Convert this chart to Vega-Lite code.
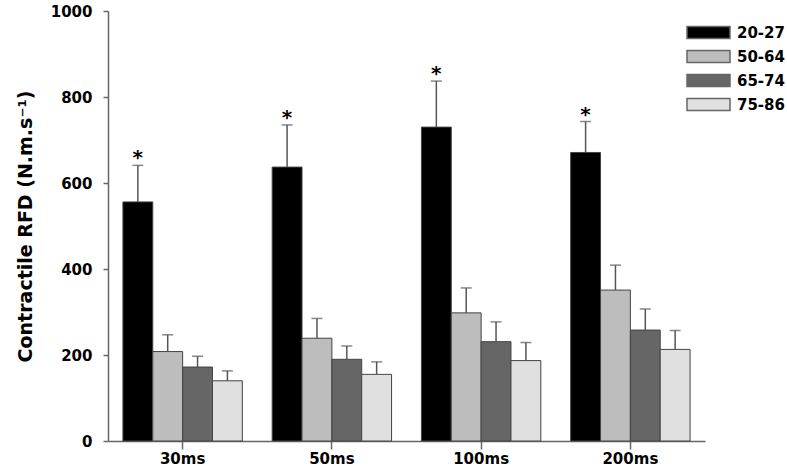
{
  "$schema": "https://vega.github.io/schema/vega-lite/v6.json",
  "autosize": "none",
  "width": 597,
  "height": 430,
  "padding": {"left": 108, "top": 11, "right": 82, "bottom": 25},
  "background": "white",
  "config": {
    "view": {"stroke": null},
    "font": "DejaVu Sans"
  },
  "data": {
    "values": [
      {"time": "30ms", "age": "20-27", "mean": 556, "upper": 641, "sig": "*"},
      {"time": "30ms", "age": "50-64", "mean": 208, "upper": 247, "sig": ""},
      {"time": "30ms", "age": "65-74", "mean": 172, "upper": 197, "sig": ""},
      {"time": "30ms", "age": "75-86", "mean": 140, "upper": 163, "sig": ""},
      {"time": "50ms", "age": "20-27", "mean": 637, "upper": 735, "sig": "*"},
      {"time": "50ms", "age": "50-64", "mean": 239, "upper": 285, "sig": ""},
      {"time": "50ms", "age": "65-74", "mean": 190, "upper": 221, "sig": ""},
      {"time": "50ms", "age": "75-86", "mean": 155, "upper": 184, "sig": ""},
      {"time": "100ms", "age": "20-27", "mean": 730, "upper": 837, "sig": "*"},
      {"time": "100ms", "age": "50-64", "mean": 298, "upper": 356, "sig": ""},
      {"time": "100ms", "age": "65-74", "mean": 231, "upper": 277, "sig": ""},
      {"time": "100ms", "age": "75-86", "mean": 187, "upper": 229, "sig": ""},
      {"time": "200ms", "age": "20-27", "mean": 671, "upper": 743, "sig": "*"},
      {"time": "200ms", "age": "50-64", "mean": 351, "upper": 409, "sig": ""},
      {"time": "200ms", "age": "65-74", "mean": 258, "upper": 307, "sig": ""},
      {"time": "200ms", "age": "75-86", "mean": 213, "upper": 257, "sig": ""}
    ]
  },
  "encoding": {
    "x": {
      "field": "time", "type": "nominal", "sort": ["30ms", "50ms", "100ms", "200ms"],
      "scale": {"paddingInner": 0.2, "paddingOuter": 0.1},
      "axis": {
        "title": null, "labelAngle": 0, "labelFont": "DejaVu Sans", "labelFontWeight": "bold",
        "labelFontSize": 15, "labelColor": "black", "labelPadding": 2,
        "domainColor": "#666", "domainWidth": 1.5, "tickColor": "#666", "tickWidth": 1.5, "tickSize": 8
      }
    },
    "xOffset": {"field": "age", "type": "nominal", "sort": ["20-27", "50-64", "65-74", "75-86"], "scale": {"paddingInner": 0, "paddingOuter": 0}}
  },
  "layer": [
    {
      "mark": {"type": "bar", "stroke": "#444", "strokeWidth": 1, "opacity": 1},
      "encoding": {
        "y": {
          "field": "mean", "type": "quantitative",
          "scale": {"domain": [0, 1000], "nice": false},
          "axis": {
            "values": [0, 200, 400, 600, 800, 1000], "format": "d", "grid": false,
            "title": "Contractile RFD (N.m.s⁻¹)", "titleFont": "DejaVu Sans", "titleFontSize": 19,
            "titleFontWeight": "bold", "titleColor": "black", "titlePadding": 15,
            "labelFont": "DejaVu Sans", "labelFontWeight": "bold", "labelFontSize": 15, "labelColor": "black",
            "labelPadding": 11, "domainColor": "#666", "domainWidth": 1.5, "tickColor": "#666", "tickWidth": 1.5, "tickSize": 5
          }
        },
        "fill": {
          "field": "age", "type": "nominal",
          "scale": {"domain": ["20-27", "50-64", "65-74", "75-86"], "range": ["#000000", "#bdbdbd", "#666666", "#e0e0e0"]},
          "legend": {
            "title": null, "orient": "none", "legendX": 589, "legendY": 10,
            "symbolType": "M-2,-0.56L2,-0.56L2,0.56L-2,0.56Z", "symbolSize": 462,
            "symbolStrokeColor": "#666", "symbolStrokeWidth": 1.5, "symbolOpacity": 1,
            "labelFont": "DejaVu Sans", "labelFontWeight": "bold", "labelFontSize": 15, "labelColor": "black",
            "labelOffset": 17, "rowPadding": 3
          }
        }
      }
    },
    {
      "mark": {"type": "rule", "color": "#555", "strokeWidth": 1.5},
      "encoding": {
        "y": {"field": "mean", "type": "quantitative"},
        "y2": {"field": "upper"}
      }
    },
    {
      "mark": {"type": "tick", "color": "#555", "thickness": 1.5, "size": 11, "orient": "horizontal"},
      "encoding": {
        "y": {"field": "upper", "type": "quantitative"}
      }
    },
    {
      "mark": {"type": "text", "fontSize": 20, "fontWeight": "bold", "color": "black", "baseline": "alphabetic", "dy": -1},
      "encoding": {
        "y": {"field": "upper", "type": "quantitative"},
        "text": {"field": "sig"}
      }
    }
  ]
}
